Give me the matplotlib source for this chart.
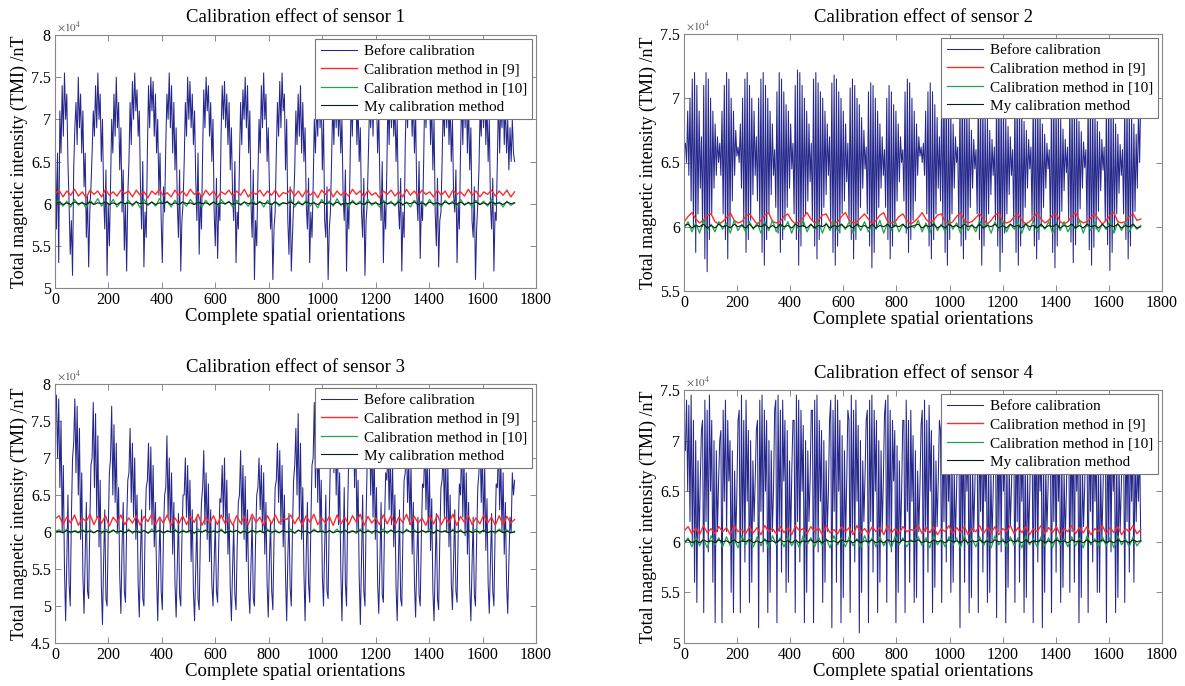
import numpy as np
import matplotlib
matplotlib.use("Agg")
import matplotlib.pyplot as plt

plt.rcParams['font.family'] = ['Liberation Serif', 'DejaVu Serif']
plt.rcParams['mathtext.fontset'] = 'stix'

# all values are in units of 100 nT (755 -> 7.55 x 10^4 nT),
# spread evenly over the 1720 orientations
N_ORIENT = 1720

s1_before = [
    680, 570, 660, 530, 710, 660, 740, 680, 755, 700, 730, 650, 600, 540, 580, 515,
    640, 690, 720, 670, 750, 690, 730, 660, 710, 620, 660, 560, 610, 525, 590, 620,
    660, 710, 680, 740, 690, 755, 700, 730, 650, 700, 610, 570, 640, 515, 600, 550,
    620, 700, 660, 730, 680, 750, 690, 720, 640, 690, 590, 640, 545, 600, 520, 610,
    650, 720, 670, 745, 700, 755, 710, 735, 680, 710, 620, 570, 650, 525, 590, 560,
    660, 740, 690, 750, 710, 745, 680, 730, 660, 700, 610, 660, 580, 530, 620, 590,
    670, 730, 700, 755, 690, 740, 660, 720, 640, 690, 600, 560, 640, 520, 580, 600,
    650, 720, 680, 750, 700, 745, 690, 730, 670, 710, 630, 580, 660, 540, 610, 570,
    660, 735, 690, 750, 710, 740, 680, 720, 650, 700, 590, 550, 630, 535, 600, 580,
    680, 740, 700, 745, 690, 730, 670, 720, 640, 690, 610, 580, 650, 530, 590, 570,
    650, 720, 670, 735, 700, 750, 690, 740, 660, 710, 600, 560, 640, 510, 580, 550,
    630, 700, 660, 740, 690, 755, 700, 730, 650, 690, 620, 570, 600, 510, 570, 590,
    660, 720, 680, 745, 690, 755, 710, 730, 640, 700, 580, 540, 620, 520, 560, 600,
    640, 710, 670, 730, 680, 740, 660, 720, 650, 690, 600, 570, 630, 530, 590, 560,
    620, 700, 660, 720, 680, 750, 690, 730, 640, 700, 580, 560, 620, 510, 570, 590,
    650, 720, 670, 735, 690, 740, 680, 720, 660, 700, 610, 580, 640, 520, 600, 570,
    640, 730, 680, 750, 700, 745, 670, 720, 650, 690, 590, 560, 630, 515, 580, 600,
    660, 720, 690, 740, 680, 745, 700, 730, 660, 710, 620, 580, 650, 530, 600, 570,
    640, 730, 670, 750, 690, 745, 680, 720, 650, 700, 600, 570, 630, 520, 590, 560,
    670, 730, 690, 745, 700, 740, 680, 730, 660, 710, 610, 580, 650, 535, 600, 580,
    650, 740, 690, 750, 700, 745, 670, 720, 640, 700, 590, 550, 630, 525, 580, 590,
    650, 720, 680, 740, 690, 745, 670, 720, 650, 700, 610, 590, 640, 530, 600, 570,
    660, 730, 670, 750, 690, 740, 660, 720, 640, 690, 580, 560, 620, 510, 570, 600,
    640, 710, 680, 740, 690, 745, 670, 720, 650, 700, 600, 570, 630, 520, 590, 580,
    650, 730, 660, 720, 690, 740, 670, 720, 660, 700, 640, 690, 650, 700, 660, 650,
]
s1_method9 = [
    612, 616, 608, 615, 610, 617, 609, 614, 607, 616, 611, 615, 608, 617, 610, 614, 609, 616, 612, 615,
    608, 616, 610, 614, 607, 615, 611, 617, 609, 613, 608, 616, 610, 615, 609, 617, 611, 614, 608, 616,
    610, 615, 607, 614, 611, 616, 609, 615, 610, 617, 608, 614, 611, 616, 609, 615, 610, 616, 608, 613,
    612, 617, 609, 615, 608, 616, 610, 614, 607, 616, 611, 617, 608, 615, 610, 614, 609, 617, 611, 615,
    608, 616, 610, 613, 607, 615, 611, 616, 609, 614, 608, 617, 610, 615, 609, 616, 611, 614, 608, 616,
    610, 615, 607, 616, 611, 614, 609, 617, 610, 615, 608, 614, 611, 616, 609, 615, 610, 616, 608, 614,
]
s1_method10 = [
    600, 604, 597, 603, 596, 605, 598, 602, 595, 604, 599, 606, 597, 603, 598, 605, 596, 602, 599, 604,
    597, 603, 595, 605, 598, 602, 597, 606, 599, 603, 596, 604, 598, 602, 597, 605, 599, 603, 596, 604,
    598, 602, 597, 605, 599, 603, 596, 604, 598, 602, 597, 605, 599, 603, 596, 604, 598, 603, 597, 601,
    600, 605, 596, 603, 598, 604, 597, 602, 595, 605, 599, 603, 597, 606, 598, 602, 596, 604, 599, 603,
    597, 605, 598, 602, 596, 604, 599, 603, 597, 605, 598, 602, 596, 604, 599, 603, 597, 605, 598, 602,
    596, 604, 599, 603, 597, 605, 598, 602, 596, 604, 599, 603, 597, 605, 598, 602, 596, 603, 598, 601,
]
s1_mine = [
    600, 602, 599, 601, 599, 602, 600, 601, 599, 602, 599, 601, 600, 602, 599, 601, 599, 602, 600, 601,
    599, 602, 600, 601, 599, 602, 599, 601, 600, 602, 599, 601, 599, 602, 600, 601, 599, 602, 600, 601,
    599, 602, 599, 601, 600, 602, 599, 601, 599, 602, 600, 601, 599, 602, 600, 601, 599, 602, 599, 601,
    600, 602, 599, 601, 599, 602, 600, 601, 599, 602, 600, 601, 599, 602, 599, 601, 600, 602, 599, 601,
    599, 602, 600, 601, 599, 602, 600, 601, 599, 602, 599, 601, 600, 602, 599, 601, 599, 602, 600, 601,
    599, 602, 600, 601, 599, 602, 599, 601, 600, 602, 599, 601, 599, 602, 600, 601, 599, 602, 600, 601,
]

s2_before = [
    660, 665, 650, 690, 640, 700, 620, 715, 600, 720, 580, 710, 610, 690, 630, 670,
    600, 710, 575, 720, 565, 715, 590, 700, 610, 690, 630, 680, 640, 670, 650, 665,
    640, 690, 610, 710, 590, 720, 575, 715, 600, 700, 620, 690, 640, 675, 655, 662,
    650, 680, 630, 700, 600, 715, 580, 720, 590, 710, 605, 700, 625, 690, 640, 670,
    620, 700, 600, 715, 580, 720, 570, 710, 590, 700, 610, 690, 625, 680, 640, 660,
    615, 705, 595, 720, 580, 715, 590, 705, 605, 695, 615, 690, 630, 680, 645, 665,
    610, 710, 590, 722, 570, 720, 585, 710, 600, 700, 610, 690, 620, 680, 635, 665,
    605, 715, 585, 720, 575, 712, 590, 705, 600, 700, 615, 690, 625, 680, 640, 670,
    600, 712, 580, 718, 570, 715, 585, 705, 595, 700, 610, 690, 620, 680, 635, 665,
    605, 708, 590, 715, 575, 710, 590, 700, 600, 695, 615, 685, 630, 675, 645, 662,
    610, 705, 585, 712, 568, 710, 580, 700, 600, 690, 615, 680, 630, 670, 640, 660,
    615, 700, 590, 710, 575, 705, 585, 695, 600, 690, 620, 680, 635, 670, 650, 660,
    620, 705, 595, 715, 580, 712, 590, 700, 605, 690, 620, 680, 640, 670, 655, 662,
    650, 665, 640, 690, 610, 705, 585, 712, 575, 705, 590, 695, 610, 685, 630, 670,
    620, 700, 600, 712, 580, 708, 570, 700, 590, 690, 610, 680, 630, 670, 650, 662,
    600, 700, 585, 710, 575, 705, 590, 695, 600, 685, 615, 675, 630, 668, 645, 660,
    610, 700, 590, 705, 570, 700, 585, 690, 600, 685, 610, 675, 625, 668, 640, 662,
    605, 702, 585, 708, 565, 705, 580, 695, 595, 685, 610, 678, 625, 670, 640, 660,
    600, 700, 580, 705, 570, 700, 585, 690, 600, 682, 615, 675, 630, 668, 645, 662,
    605, 698, 585, 702, 575, 700, 590, 690, 600, 680, 615, 672, 630, 665, 645, 660,
    600, 700, 580, 705, 568, 700, 585, 692, 598, 684, 612, 676, 628, 668, 642, 662,
    605, 698, 588, 703, 572, 698, 586, 690, 600, 682, 614, 674, 630, 666, 646, 660,
    600, 700, 582, 705, 570, 700, 584, 690, 598, 682, 612, 674, 628, 668, 644, 662,
    604, 698, 586, 702, 566, 698, 580, 690, 596, 680, 610, 672, 626, 664, 640, 660,
    610, 695, 590, 700, 575, 695, 585, 688, 600, 680, 612, 672, 630, 690, 650, 700,
]
s2_method9 = [
    604, 608, 611, 606, 603, 605, 609, 610, 604, 602, 604, 607, 611, 605, 603, 604, 608, 610, 606, 602,
    605, 609, 611, 604, 603, 604, 608, 610, 605, 602, 604, 607, 611, 606, 603, 605, 609, 610, 604, 602,
    604, 608, 611, 605, 603, 604, 607, 610, 606, 602, 605, 609, 611, 604, 603, 604, 608, 610, 605, 602,
    604, 607, 611, 606, 603, 605, 609, 610, 604, 602, 604, 608, 611, 605, 603, 604, 607, 610, 606, 602,
    605, 609, 611, 604, 603, 604, 608, 610, 605, 602, 604, 607, 611, 606, 603, 605, 609, 610, 604, 602,
    604, 608, 611, 605, 603, 604, 607, 610, 606, 602, 605, 609, 611, 604, 603, 604, 608, 610, 605, 606,
]
s2_method10 = [
    599, 604, 596, 603, 595, 605, 597, 602, 596, 604, 598, 603, 595, 605, 597, 602, 596, 604, 598, 603,
    595, 604, 597, 605, 596, 602, 598, 604, 595, 603, 597, 605, 596, 602, 598, 604, 595, 603, 597, 605,
    596, 602, 598, 604, 595, 603, 597, 604, 596, 602, 598, 605, 595, 603, 597, 604, 596, 602, 598, 601,
    599, 605, 596, 603, 595, 604, 597, 602, 596, 605, 598, 603, 595, 604, 597, 602, 596, 605, 598, 603,
    595, 604, 597, 605, 596, 602, 598, 604, 595, 603, 597, 605, 596, 602, 598, 604, 595, 603, 597, 604,
    596, 602, 598, 605, 595, 603, 597, 604, 596, 602, 598, 605, 595, 603, 597, 604, 596, 602, 598, 601,
]
s2_mine = [
    601, 602, 599, 601, 600, 602, 599, 601, 599, 602, 600, 601, 599, 602, 600, 601, 599, 602, 599, 601,
    600, 602, 599, 601, 599, 602, 600, 601, 599, 602, 600, 601, 599, 602, 599, 601, 600, 602, 599, 601,
    600, 602, 599, 601, 599, 602, 600, 601, 599, 602, 599, 601, 600, 602, 599, 601, 600, 602, 599, 600,
    601, 602, 599, 601, 600, 602, 599, 601, 599, 602, 600, 601, 599, 602, 600, 601, 599, 602, 599, 601,
    600, 602, 599, 601, 599, 602, 600, 601, 599, 602, 600, 601, 599, 602, 599, 601, 600, 602, 599, 601,
    600, 602, 599, 601, 599, 602, 600, 601, 599, 602, 599, 601, 600, 602, 599, 601, 600, 602, 599, 600,
]

s3_before = [
    760, 785, 700, 780, 660, 750, 600, 690, 550, 480, 560, 650, 530, 500, 620, 700,
    720, 780, 680, 770, 650, 740, 590, 680, 540, 490, 570, 640, 520, 510, 610, 690,
    700, 775, 660, 760, 620, 730, 580, 670, 530, 475, 560, 630, 510, 500, 600, 680,
    700, 770, 650, 745, 640, 720, 600, 660, 540, 490, 580, 640, 520, 505, 610, 670,
    680, 740, 640, 720, 620, 700, 590, 650, 530, 485, 570, 630, 510, 500, 600, 660,
    670, 720, 630, 715, 610, 690, 580, 640, 540, 480, 560, 620, 520, 495, 600, 650,
    660, 730, 620, 700, 600, 680, 570, 640, 530, 485, 555, 625, 515, 500, 590, 650,
    650, 700, 620, 690, 600, 670, 560, 630, 520, 480, 550, 620, 510, 495, 590, 640,
    660, 710, 610, 680, 590, 665, 560, 630, 530, 500, 560, 615, 520, 505, 585, 645,
    640, 690, 620, 700, 600, 670, 570, 625, 525, 480, 550, 610, 515, 495, 580, 640,
    650, 710, 610, 690, 590, 675, 560, 630, 520, 490, 555, 620, 510, 500, 590, 650,
    660, 700, 630, 690, 600, 680, 570, 640, 530, 485, 560, 615, 520, 495, 590, 660,
    670, 720, 640, 710, 610, 690, 580, 650, 540, 480, 565, 625, 525, 500, 600, 670,
    690, 740, 650, 760, 620, 720, 590, 660, 545, 480, 570, 640, 530, 505, 610, 690,
    700, 775, 660, 760, 640, 730, 600, 670, 540, 500, 580, 650, 520, 510, 620, 700,
    720, 780, 680, 770, 650, 740, 610, 680, 550, 480, 570, 660, 530, 500, 630, 710,
    730, 785, 690, 760, 660, 740, 600, 670, 540, 475, 560, 650, 520, 500, 620, 700,
    690, 750, 650, 730, 620, 710, 590, 660, 530, 490, 560, 640, 515, 505, 610, 680,
    670, 720, 630, 710, 610, 690, 580, 650, 525, 480, 555, 630, 510, 500, 600, 670,
    680, 730, 640, 700, 610, 690, 570, 640, 530, 485, 560, 620, 515, 500, 595, 665,
    660, 720, 630, 710, 600, 685, 575, 645, 520, 480, 550, 625, 510, 495, 590, 660,
    670, 710, 620, 720, 600, 690, 580, 650, 530, 495, 560, 630, 520, 505, 600, 665,
    650, 720, 620, 700, 595, 680, 570, 640, 525, 480, 555, 620, 515, 500, 590, 660,
    680, 730, 640, 710, 600, 690, 575, 645, 530, 490, 560, 625, 520, 500, 595, 665,
    660, 720, 630, 700, 600, 680, 570, 640, 530, 490, 560, 620, 600, 680, 650, 670,
]
s3_method9 = [
    618, 622, 610, 620, 612, 623, 609, 619, 614, 624, 610, 621, 612, 622, 608, 620, 613, 623, 610, 619,
    612, 622, 609, 621, 614, 624, 610, 620, 612, 623, 609, 619, 611, 622, 610, 621, 613, 624, 609, 620,
    612, 622, 610, 623, 611, 619, 609, 622, 612, 621, 610, 624, 613, 620, 609, 622, 611, 623, 612, 618,
    617, 623, 611, 620, 609, 622, 613, 624, 610, 619, 612, 621, 609, 623, 611, 620, 610, 622, 613, 624,
    609, 621, 612, 619, 610, 623, 611, 622, 609, 620, 613, 624, 610, 621, 612, 619, 609, 622, 611, 623,
    610, 620, 612, 624, 609, 621, 613, 622, 610, 619, 611, 623, 612, 620, 609, 622, 610, 621, 612, 617,
]
s3_method10 = [
    601, 603, 599, 604, 598, 602, 600, 604, 598, 603, 599, 602, 598, 604, 600, 603, 598, 602, 599, 604,
    598, 603, 600, 602, 598, 604, 599, 603, 598, 602, 600, 604, 598, 603, 599, 602, 598, 604, 600, 603,
    598, 602, 599, 604, 598, 603, 600, 602, 598, 604, 599, 603, 598, 602, 600, 604, 598, 603, 599, 602,
    600, 604, 598, 603, 599, 602, 598, 604, 600, 603, 598, 602, 599, 604, 598, 603, 600, 602, 598, 604,
    599, 603, 598, 602, 600, 604, 598, 603, 599, 602, 598, 604, 600, 603, 598, 602, 599, 604, 598, 603,
    600, 602, 598, 604, 599, 603, 598, 602, 600, 604, 598, 603, 599, 602, 598, 604, 600, 603, 599, 601,
]
s3_mine = [
    600, 601, 599, 602, 600, 601, 599, 602, 600, 601, 599, 602, 600, 601, 599, 602, 600, 601, 599, 602,
    600, 601, 599, 602, 599, 601, 600, 602, 599, 601, 600, 602, 599, 601, 600, 602, 599, 601, 600, 602,
    599, 601, 600, 602, 599, 601, 600, 602, 599, 601, 599, 602, 600, 601, 599, 602, 600, 601, 599, 602,
    600, 601, 599, 602, 600, 601, 599, 602, 600, 601, 599, 602, 599, 601, 600, 602, 599, 601, 600, 602,
    599, 601, 600, 602, 599, 601, 600, 602, 599, 601, 599, 602, 600, 601, 599, 602, 600, 601, 599, 602,
    600, 601, 599, 602, 600, 601, 599, 602, 599, 601, 600, 602, 599, 601, 600, 602, 599, 601, 599, 600,
]

s4_before = [
    700, 690, 740, 650, 735, 620, 745, 600, 720, 560, 700, 540, 680, 600, 660, 710,
    720, 530, 740, 620, 730, 590, 745, 650, 720, 560, 700, 520, 690, 610, 660, 700,
    710, 520, 730, 640, 740, 610, 720, 660, 700, 550, 690, 530, 670, 600, 650, 720,
    730, 530, 745, 600, 720, 580, 740, 640, 710, 540, 700, 560, 680, 620, 660, 710,
    720, 515, 740, 630, 745, 590, 730, 650, 720, 530, 700, 550, 690, 610, 650, 730,
    740, 520, 745, 610, 730, 570, 740, 660, 720, 550, 710, 560, 680, 600, 670, 720,
    720, 530, 745, 620, 740, 580, 730, 650, 715, 520, 700, 550, 690, 620, 660, 730,
    730, 520, 740, 600, 745, 590, 720, 640, 710, 540, 700, 560, 680, 610, 650, 720,
    740, 515, 730, 630, 745, 560, 740, 650, 720, 520, 705, 545, 690, 600, 660, 730,
    720, 530, 745, 610, 730, 580, 740, 640, 715, 510, 700, 550, 680, 620, 665, 720,
    730, 520, 740, 620, 745, 570, 730, 650, 720, 530, 700, 560, 690, 610, 660, 725,
    740, 540, 745, 600, 730, 590, 720, 660, 710, 520, 695, 550, 680, 600, 650, 720,
    720, 530, 740, 630, 720, 560, 730, 640, 705, 540, 690, 545, 670, 610, 655, 715,
    730, 520, 740, 610, 720, 570, 735, 650, 710, 530, 695, 555, 680, 615, 660, 720,
    710, 540, 730, 620, 740, 580, 720, 640, 700, 550, 690, 560, 670, 600, 650, 715,
    720, 515, 730, 600, 720, 560, 730, 650, 705, 530, 690, 545, 675, 610, 655, 720,
    700, 530, 720, 630, 730, 570, 710, 640, 700, 540, 685, 550, 670, 600, 650, 710,
    720, 525, 730, 610, 720, 590, 730, 650, 700, 520, 690, 555, 675, 615, 655, 715,
    710, 540, 725, 620, 730, 560, 720, 640, 705, 530, 685, 545, 670, 600, 650, 710,
    720, 520, 730, 600, 720, 580, 710, 650, 700, 515, 690, 550, 675, 610, 655, 715,
    700, 530, 725, 620, 730, 570, 720, 640, 700, 540, 685, 555, 670, 600, 650, 710,
    720, 550, 730, 610, 720, 560, 730, 650, 705, 520, 690, 545, 675, 615, 655, 720,
    710, 530, 720, 630, 730, 580, 720, 640, 700, 550, 685, 550, 670, 600, 650, 710,
    720, 520, 730, 600, 720, 590, 710, 650, 700, 530, 690, 545, 675, 610, 655, 715,
    700, 540, 720, 620, 730, 570, 710, 640, 700, 560, 690, 620, 680, 640, 700, 600,
]
s4_method9 = [
    611, 615, 608, 614, 607, 616, 609, 613, 608, 615, 610, 614, 607, 616, 610, 612, 608, 615, 609, 614,
    607, 616, 610, 613, 608, 615, 609, 614, 607, 616, 611, 613, 608, 615, 610, 614, 607, 616, 609, 612,
    608, 615, 610, 614, 607, 616, 609, 613, 608, 615, 610, 614, 607, 616, 609, 613, 608, 615, 610, 612,
    611, 616, 608, 614, 609, 615, 607, 613, 610, 616, 608, 614, 609, 615, 607, 613, 610, 616, 608, 614,
    609, 615, 607, 613, 610, 616, 608, 614, 609, 615, 607, 613, 610, 616, 608, 614, 609, 615, 607, 613,
    610, 616, 608, 614, 609, 615, 607, 613, 610, 616, 608, 614, 609, 615, 607, 613, 610, 616, 608, 612,
]
s4_method10 = [
    598, 604, 595, 605, 596, 603, 594, 606, 597, 604, 595, 605, 596, 603, 594, 606, 597, 604, 595, 605,
    596, 603, 594, 606, 597, 604, 595, 605, 596, 603, 594, 606, 597, 604, 595, 605, 596, 603, 594, 606,
    597, 604, 595, 605, 596, 603, 594, 606, 597, 604, 595, 605, 596, 603, 594, 606, 597, 604, 595, 602,
    599, 605, 596, 604, 594, 606, 597, 603, 595, 605, 596, 604, 594, 606, 597, 603, 595, 605, 596, 604,
    594, 606, 597, 603, 595, 605, 596, 604, 594, 606, 597, 603, 595, 605, 596, 604, 594, 606, 597, 603,
    595, 605, 596, 604, 594, 606, 597, 603, 595, 605, 596, 604, 594, 606, 597, 603, 595, 605, 596, 601,
]
s4_mine = [
    600, 602, 599, 601, 599, 602, 600, 601, 599, 602, 600, 601, 599, 602, 599, 601, 600, 602, 599, 601,
    599, 602, 600, 601, 599, 602, 600, 601, 599, 602, 599, 601, 600, 602, 599, 601, 599, 602, 600, 601,
    599, 602, 600, 601, 599, 602, 599, 601, 600, 602, 599, 601, 599, 602, 600, 601, 599, 602, 600, 601,
    600, 602, 599, 601, 599, 602, 600, 601, 599, 602, 600, 601, 599, 602, 599, 601, 600, 602, 599, 601,
    599, 602, 600, 601, 599, 602, 600, 601, 599, 602, 599, 601, 600, 602, 599, 601, 599, 602, 600, 601,
    599, 602, 600, 601, 599, 602, 599, 601, 600, 602, 599, 601, 599, 602, 600, 601, 599, 602, 600, 601,
]

titles = ["Calibration effect of sensor 1", "Calibration effect of sensor 2",
          "Calibration effect of sensor 3", "Calibration effect of sensor 4"]
series_labels = ["Before calibration", "Calibration method in [9]",
                 "Calibration method in [10]", "My calibration method"]
y_limits = [(5, 8), (5.5, 7.5), (4.5, 8), (5, 7.5)]
x_ticks = [0, 200, 400, 600, 800, 1000, 1200, 1400, 1600, 1800]

sensors = [
    (s1_before, s1_method9, s1_method10, s1_mine),
    (s2_before, s2_method9, s2_method10, s2_mine),
    (s3_before, s3_method9, s3_method10, s3_mine),
    (s4_before, s4_method9, s4_method10, s4_mine),
]

colors = ['#25278c', '#ff2b2b', '#1ea64a', '#0b200b']
widths = [0.75, 1.0, 0.9, 0.8]

# axes boxes in pixels: left, top, right, bottom
W, H = 1185, 686
boxes = [(55, 35, 536, 288), (684, 34, 1162, 291),
         (55, 384, 536, 643), (684, 390, 1162, 643)]

fig = plt.figure(figsize=(W / 100, H / 100), dpi=100)

for k, (box, data) in enumerate(zip(boxes, sensors)):
    l, t, r, b = box
    ax = fig.add_axes([l / W, 1 - b / H, (r - l) / W, (b - t) / H])
    for vals, c, lw, lab in zip(data, colors, widths, series_labels):
        xs = np.linspace(1, N_ORIENT, len(vals))
        ax.plot(xs, np.asarray(vals) / 100.0, color=c, lw=lw, label=lab)
    ax.set_xlim(0, 1800)
    lo, hi = y_limits[k]
    ax.set_ylim(lo, hi)
    ax.set_xticks(x_ticks)
    ax.set_yticks(np.arange(lo, hi + 0.01, 0.5))
    ax.yaxis.set_major_formatter(matplotlib.ticker.FormatStrFormatter('%g'))
    ax.tick_params(direction='in', top=True, right=True, length=4,
                   width=0.6, color='#777777', labelsize=11.5, pad=3)
    for sp in ax.spines.values():
        sp.set_color('#888888')
        sp.set_linewidth(0.8)
    ax.set_title(titles[k], fontsize=13.5, pad=9)
    ax.set_xlabel("Complete spatial orientations", fontsize=13.5, labelpad=0)
    ax.set_ylabel("Total magnetic intensity (TMI) /nT", fontsize=13, labelpad=2)
    ax.text(0.005, 1.005, r"$\times10^4$", transform=ax.transAxes,
            fontsize=8, color='#555555', va='bottom', ha='left')
    leg = ax.legend(loc='upper right', fontsize=11, handlelength=2.4,
                    handletextpad=0.4, borderpad=0.35, labelspacing=0.32,
                    borderaxespad=0.25, fancybox=False, framealpha=1)
    leg.get_frame().set_edgecolor('#777777')
    leg.get_frame().set_linewidth(0.8)

fig.savefig("out.png", dpi=100)
